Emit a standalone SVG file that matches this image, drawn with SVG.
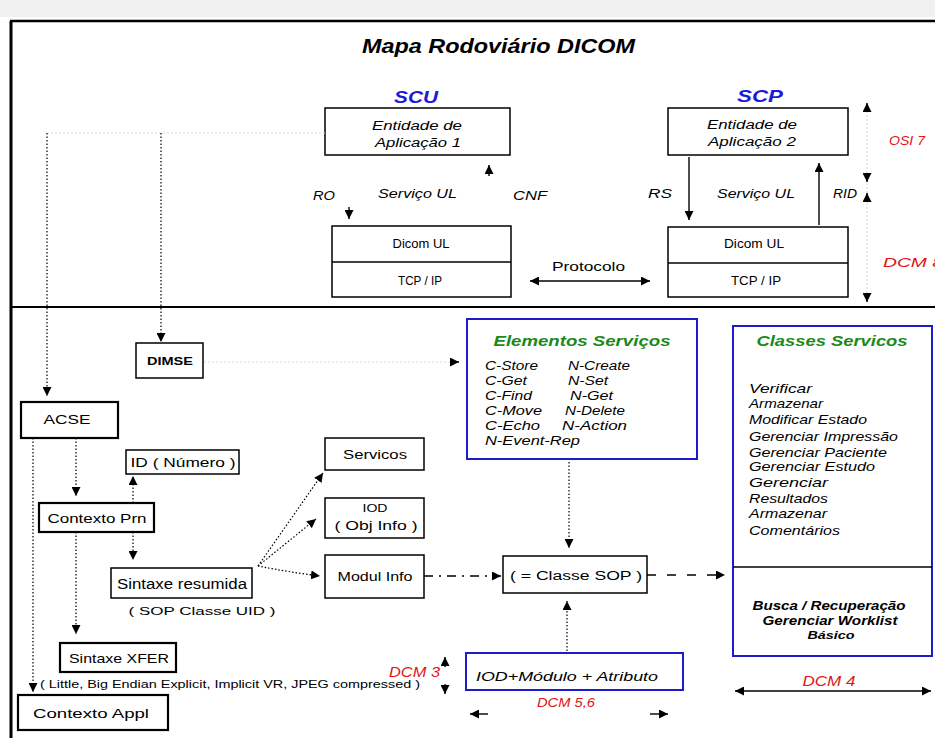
<svg xmlns="http://www.w3.org/2000/svg" width="935" height="738" viewBox="0 0 935 738">
<defs>
  <marker id="ah" viewBox="0 0 10 10" refX="10" refY="5" markerWidth="9" markerHeight="9" markerUnits="userSpaceOnUse" orient="auto-start-reverse">
    <path d="M0,0 L10,5 L0,10 z" fill="#000"/>
  </marker>
</defs>
<style>
  text{font-family:"Liberation Sans",Arial,sans-serif;fill:#000}
  .box{fill:#fff;stroke:#000;stroke-width:1.5}
  .box2{fill:#fff;stroke:#000;stroke-width:2.2}
  .bbox{fill:#fff;stroke:#1c1cc8;stroke-width:2}
  .dot{fill:none;stroke:#000;stroke-width:1.2;stroke-dasharray:1.5 2}
  .faint{fill:none;stroke:#dcdcdc;stroke-width:1.2;stroke-dasharray:2 2}
  .solid{fill:none;stroke:#000;stroke-width:1.4}
  .it{font-style:italic}
  .b{font-weight:bold}
  .red{fill:#e01414;font-style:italic}
  .blue{fill:#1a1ad8}
  .green{fill:#1a8a1a}
  .c{text-anchor:middle}
</style>

<!-- frame -->
<rect x="0" y="0" width="935" height="17" fill="#f0f0f0"/>
<line x1="10" y1="21" x2="935" y2="21" stroke="#000" stroke-width="2.5"/>
<line x1="11" y1="21" x2="11" y2="738" stroke="#000" stroke-width="3"/>
<line x1="11" y1="307" x2="935" y2="307" stroke="#000" stroke-width="2"/>

<text x="362" y="53" font-size="21" class="b it" textLength="273" lengthAdjust="spacingAndGlyphs">Mapa Rodoviário DICOM</text>

<!-- upper layer: application entities and upper layer -->
<g id="scu">
  <text x="394" y="103" font-size="17" class="b it blue" textLength="44" lengthAdjust="spacingAndGlyphs">SCU</text>
  <rect class="box" x="325" y="108" width="185" height="47"/>
  <text x="417" y="130" font-size="12" class="it c" textLength="90" lengthAdjust="spacingAndGlyphs">Entidade de</text>
  <text x="418" y="147" font-size="12" class="it c" textLength="86" lengthAdjust="spacingAndGlyphs">Aplicação 1</text>
</g>
<g id="scp">
  <text x="737" y="102" font-size="17" class="b it blue" textLength="46" lengthAdjust="spacingAndGlyphs">SCP</text>
  <rect class="box" x="668" y="108" width="180" height="47"/>
  <text x="752" y="129" font-size="12" class="it c" textLength="90" lengthAdjust="spacingAndGlyphs">Entidade de</text>
  <text x="752" y="146" font-size="12" class="it c" textLength="88" lengthAdjust="spacingAndGlyphs">Aplicação 2</text>
</g>
<g id="ul-scu">
  <rect class="box" x="332" y="226" width="179" height="71"/>
  <line x1="332" y1="262" x2="511" y2="262" stroke="#000" stroke-width="1.5"/>
  <text x="421" y="248" font-size="12" class="c" textLength="57" lengthAdjust="spacingAndGlyphs">Dicom UL</text>
  <text x="420" y="285" font-size="12" class="c" textLength="44" lengthAdjust="spacingAndGlyphs">TCP / IP</text>
</g>
<g id="ul-scp">
  <rect class="box" x="668" y="227" width="180" height="70"/>
  <line x1="668" y1="263" x2="848" y2="263" stroke="#000" stroke-width="1.5"/>
  <text x="754" y="248" font-size="12" class="c" textLength="60" lengthAdjust="spacingAndGlyphs">Dicom UL</text>
  <text x="756" y="285" font-size="12" class="c" textLength="50" lengthAdjust="spacingAndGlyphs">TCP / IP</text>
</g>
<g id="ul-labels">
  <text x="313" y="200" font-size="12" class="it" textLength="22" lengthAdjust="spacingAndGlyphs">RO</text>
  <text x="378" y="198" font-size="13" class="it" textLength="79" lengthAdjust="spacingAndGlyphs">Serviço UL</text>
  <text x="513" y="200" font-size="12" class="it" textLength="34" lengthAdjust="spacingAndGlyphs">CNF</text>
  <text x="648" y="198" font-size="12" class="it" textLength="24" lengthAdjust="spacingAndGlyphs">RS</text>
  <text x="717" y="198" font-size="13" class="it" textLength="78" lengthAdjust="spacingAndGlyphs">Serviço UL</text>
  <text x="833" y="198" font-size="12" class="it" textLength="24" lengthAdjust="spacingAndGlyphs">RID</text>
  <text x="552" y="271" font-size="12" textLength="73" lengthAdjust="spacingAndGlyphs">Protocolo</text>
  <text x="889" y="145" font-size="12" class="red" textLength="36" lengthAdjust="spacingAndGlyphs">OSI 7</text>
  <text x="883" y="267" font-size="12" class="red" textLength="60" lengthAdjust="spacingAndGlyphs">DCM 8</text>
</g>

<!-- lower layer: service elements and contexts -->
<g id="dimse">
  <rect class="box" x="136" y="343" width="67" height="35"/>
  <text x="170" y="365" font-size="11" class="b c" textLength="46" lengthAdjust="spacingAndGlyphs">DIMSE</text>
</g>
<g id="acse">
  <rect class="box2" x="21" y="402" width="97" height="36"/>
  <text x="67" y="424" font-size="12" class="c" textLength="47" lengthAdjust="spacingAndGlyphs">ACSE</text>
</g>
<g id="id-numero">
  <rect class="box" x="126" y="450" width="113" height="24"/>
  <text x="183" y="467" font-size="12" class="c" textLength="105" lengthAdjust="spacingAndGlyphs">ID ( Número )</text>
</g>
<g id="contexto-pres">
  <rect class="box2" x="39" y="503" width="115" height="29"/>
  <text x="97" y="523" font-size="13" class="c" textLength="99" lengthAdjust="spacingAndGlyphs">Contexto Prn</text>
</g>
<g id="sintaxe-resumida">
  <rect class="box" x="111" y="568" width="141" height="30"/>
  <text x="182" y="589" font-size="14" class="c" textLength="130" lengthAdjust="spacingAndGlyphs">Sintaxe resumida</text>
  <text x="202" y="615" font-size="11" class="c" textLength="147" lengthAdjust="spacingAndGlyphs">( SOP Classe UID )</text>
</g>
<g id="sintaxe-xfer">
  <rect class="box2" x="60" y="643" width="116" height="29"/>
  <text x="119" y="663" font-size="13" class="c" textLength="100" lengthAdjust="spacingAndGlyphs">Sintaxe XFER</text>
  <text x="40" y="688" font-size="11" textLength="380" lengthAdjust="spacingAndGlyphs">( Little, Big Endian Explicit, Implicit VR, JPEG compressed )</text>
</g>
<g id="contexto-appl">
  <rect class="box2" x="18" y="695" width="150" height="35"/>
  <text x="91" y="718" font-size="13" class="c" textLength="116" lengthAdjust="spacingAndGlyphs">Contexto  Appl</text>
</g>
<g id="servicos">
  <rect class="box" x="325" y="438" width="99" height="32"/>
  <text x="375" y="459" font-size="12" class="c" textLength="64" lengthAdjust="spacingAndGlyphs">Servicos</text>
</g>
<g id="iod">
  <rect class="box" x="325" y="498" width="99" height="40"/>
  <text x="375" y="512" font-size="11" class="c" textLength="25" lengthAdjust="spacingAndGlyphs">IOD</text>
  <text x="376" y="530" font-size="12" class="c" textLength="83" lengthAdjust="spacingAndGlyphs">( Obj Info )</text>
</g>
<g id="modul-info">
  <rect class="box" x="325" y="555" width="99" height="43"/>
  <text x="375" y="581" font-size="12" class="c" textLength="75" lengthAdjust="spacingAndGlyphs">Modul Info</text>
</g>
<g id="classe-sop">
  <rect class="box" x="503" y="556" width="144" height="37"/>
  <text x="576" y="580" font-size="12" class="c" textLength="132" lengthAdjust="spacingAndGlyphs">( = Classe SOP )</text>
</g>
<g id="iod-modulo">
  <rect class="bbox" x="466" y="653" width="217" height="37"/>
  <text x="476" y="681" font-size="12" class="it" textLength="182" lengthAdjust="spacingAndGlyphs">IOD+Módulo + Atributo</text>
</g>
<g id="elementos">
  <rect class="bbox" x="467" y="319" width="230" height="140"/>
  <text x="582" y="346" font-size="15" class="b it c green" textLength="177" lengthAdjust="spacingAndGlyphs">Elementos Serviços</text>
  <g font-size="12" class="it">
    <text x="485" y="370" textLength="53" lengthAdjust="spacingAndGlyphs">C-Store</text>
    <text x="568" y="370" textLength="62" lengthAdjust="spacingAndGlyphs">N-Create</text>
    <text x="485" y="385" textLength="42" lengthAdjust="spacingAndGlyphs">C-Get</text>
    <text x="568" y="385" textLength="40" lengthAdjust="spacingAndGlyphs">N-Set</text>
    <text x="485" y="400" textLength="47" lengthAdjust="spacingAndGlyphs">C-Find</text>
    <text x="570" y="400" textLength="43" lengthAdjust="spacingAndGlyphs">N-Get</text>
    <text x="485" y="415" textLength="57" lengthAdjust="spacingAndGlyphs">C-Move</text>
    <text x="565" y="415" textLength="60" lengthAdjust="spacingAndGlyphs">N-Delete</text>
    <text x="485" y="430" textLength="55" lengthAdjust="spacingAndGlyphs">C-Echo</text>
    <text x="562" y="430" textLength="65" lengthAdjust="spacingAndGlyphs">N-Action</text>
    <text x="485" y="445" textLength="95" lengthAdjust="spacingAndGlyphs">N-Event-Rep</text>
  </g>
</g>
<g id="classes">
  <rect class="bbox" x="733" y="326" width="199" height="330"/>
  <line x1="733" y1="567" x2="932" y2="567" stroke="#000" stroke-width="1.5"/>
  <text x="832" y="346" font-size="15" class="b it c green" textLength="151" lengthAdjust="spacingAndGlyphs">Classes Servicos</text>
  <g font-size="13" class="it">
    <text x="749" y="393" textLength="63" lengthAdjust="spacingAndGlyphs">Verificar</text>
    <text x="749" y="408" textLength="74" lengthAdjust="spacingAndGlyphs">Armazenar</text>
    <text x="749" y="424" textLength="118" lengthAdjust="spacingAndGlyphs">Modificar Estado</text>
    <text x="749" y="441" textLength="149" lengthAdjust="spacingAndGlyphs">Gerenciar Impressão</text>
    <text x="749" y="457" textLength="138" lengthAdjust="spacingAndGlyphs">Gerenciar Paciente</text>
    <text x="749" y="471" textLength="126" lengthAdjust="spacingAndGlyphs">Gerenciar Estudo</text>
    <text x="749" y="487" textLength="79" lengthAdjust="spacingAndGlyphs">Gerenciar</text>
    <text x="749" y="503" textLength="79" lengthAdjust="spacingAndGlyphs">Resultados</text>
    <text x="749" y="518" textLength="78" lengthAdjust="spacingAndGlyphs">Armazenar</text>
    <text x="749" y="535" textLength="91" lengthAdjust="spacingAndGlyphs">Comentários</text>
  </g>
  <g class="b it blue c">
    <text x="829" y="610" font-size="13" textLength="153" lengthAdjust="spacingAndGlyphs">Busca / Recuperação</text>
    <text x="830" y="625" font-size="13" textLength="135" lengthAdjust="spacingAndGlyphs">Gerenciar Worklist</text>
    <text x="831" y="639" font-size="11" textLength="47" lengthAdjust="spacingAndGlyphs">Básico</text>
  </g>
</g>
<g id="dcm-labels">
  <text x="389" y="677" font-size="14" class="red" textLength="51" lengthAdjust="spacingAndGlyphs">DCM 3</text>
  <text x="566" y="707" font-size="13" class="red c" textLength="58" lengthAdjust="spacingAndGlyphs">DCM 5,6</text>
  <text x="829" y="686" font-size="14" class="red c" textLength="53" lengthAdjust="spacingAndGlyphs">DCM 4</text>
</g>

<!-- connectors -->
<g id="connectors">
  <line class="solid" x1="349" y1="207" x2="349" y2="219" marker-end="url(#ah)"/>
  <line class="solid" x1="489" y1="176" x2="489" y2="165" marker-end="url(#ah)"/>
  <line class="solid" x1="689" y1="157" x2="689" y2="220" marker-end="url(#ah)"/>
  <line class="solid" x1="819" y1="225" x2="819" y2="163" marker-end="url(#ah)"/>
  <line class="solid" x1="530" y1="281" x2="650" y2="281" marker-start="url(#ah)" marker-end="url(#ah)"/>
  <line class="faint" x1="867" y1="103" x2="867" y2="302"/>
  <line class="solid" x1="867" y1="112" x2="867" y2="103" marker-end="url(#ah)"/>
  <line class="solid" x1="867" y1="173" x2="867" y2="182" marker-end="url(#ah)"/>
  <line class="solid" x1="867" y1="202" x2="867" y2="193" marker-end="url(#ah)"/>
  <line class="solid" x1="867" y1="293" x2="867" y2="302" marker-end="url(#ah)"/>

  <line class="faint" x1="47" y1="133" x2="325" y2="133"/>
  <line class="dot" x1="47" y1="133" x2="47" y2="396" marker-end="url(#ah)"/>
  <line class="dot" x1="161" y1="133" x2="161" y2="342" marker-end="url(#ah)"/>
  <line class="faint" x1="204" y1="362" x2="450" y2="362"/>
  <line class="solid" x1="450" y1="362" x2="459" y2="362" marker-end="url(#ah)"/>

  <line class="dot" x1="76" y1="438" x2="76" y2="496" marker-end="url(#ah)"/>
  <line class="dot" x1="133" y1="503" x2="133" y2="476" marker-end="url(#ah)"/>
  <line class="dot" x1="133" y1="532" x2="133" y2="560" marker-end="url(#ah)"/>
  <line class="dot" x1="33" y1="438" x2="33" y2="692" marker-end="url(#ah)"/>
  <line class="dot" x1="76" y1="532" x2="76" y2="634" marker-end="url(#ah)"/>

  <line class="dot" x1="258" y1="566" x2="323" y2="473" marker-end="url(#ah)"/>
  <line class="dot" x1="258" y1="566" x2="316" y2="519" marker-end="url(#ah)"/>
  <path class="dot" d="M258,566 Q288,572 320,576" marker-end="url(#ah)"/>

  <line x1="424" y1="576" x2="501" y2="576" stroke="#000" stroke-width="1.3" stroke-dasharray="9 6 2 6" marker-end="url(#ah)"/>
  <line x1="647" y1="575" x2="725" y2="575" stroke="#000" stroke-width="1.3" stroke-dasharray="9 11" marker-end="url(#ah)"/>
  <line class="dot" x1="569" y1="462" x2="569" y2="548" marker-end="url(#ah)"/>
  <line class="dot" x1="567" y1="651" x2="567" y2="601" marker-end="url(#ah)"/>

  <line class="solid" x1="445" y1="667" x2="445" y2="657" marker-end="url(#ah)"/>
  <line class="solid" x1="445" y1="684" x2="445" y2="694" marker-end="url(#ah)"/>
  <line class="solid" x1="488" y1="714" x2="470" y2="714" marker-end="url(#ah)"/>
  <line class="solid" x1="650" y1="714" x2="668" y2="714" marker-end="url(#ah)"/>
  <line class="solid" x1="735" y1="691" x2="931" y2="691" marker-start="url(#ah)" marker-end="url(#ah)"/>
</g>
</svg>
